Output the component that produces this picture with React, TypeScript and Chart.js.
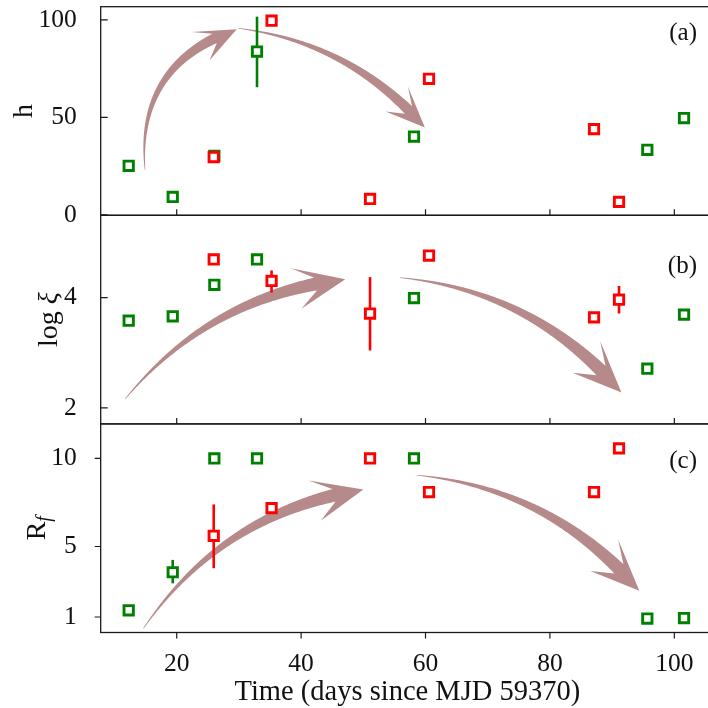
import React, { useEffect, useRef } from 'react';
import { Chart, registerables } from 'chart.js';

Chart.register(...registerables);

// ---------------- data ----------------
const X_TICKS = [20, 40, 60, 80, 100];
const H_TICKS = [0, 50, 100];
const XI_TICKS = [2, 4];
const RF_TICKS = [1, 5, 10];

const GREEN_TIME = [12.28, 19.36, 26.05, 32.91, 58.15, 95.66, 101.56];
const RED_TIME = [25.95, 35.25, 51.08, 60.56, 87.09, 91.11];

const H_GREEN = [25.2, 9.2, 30.3, 83.8, 40.2, 33.4, 49.7];
const H_GREEN_ERR = [null, null, null, [65.5, 101.7], null, null, null];
const H_RED = [29.7, 99.6, 8.2, 69.8, 44.0, 6.7];
const H_RED_ERR = [null, null, null, null, null, null];

const XI_GREEN = [3.58, 3.66, 4.23, 4.69, 3.99, 2.71, 3.69];
const XI_GREEN_ERR = [null, null, null, null, null, null, null];
const XI_RED = [4.69, 4.3, 3.71, 4.76, 3.64, 3.96];
const XI_RED_ERR = [null, [4.09, 4.49], [3.04, 4.37], null, null, [3.71, 4.21]];

const RF_GREEN = [1.38, 3.54, 10, 10, 10, 0.91, 0.94];
const RF_GREEN_ERR = [null, [2.91, 4.24], null, null, null, null, null];
const RF_RED = [5.61, 7.18, 10, 8.09, 8.09, 10.57];
const RF_RED_ERR = [[3.77, 7.39], null, null, null, null, null];

// arrows (annotation endpoints in data coordinates)
const ARROW_AXES = ['yH', 'yH', 'yXi', 'yXi', 'yRf', 'yRf'];
const ARROW_FROM = [[14.9, 23.2], [29.9, 95.7], [11.7, 2.16], [55.9, 4.36], [14.63, 0.34], [58.6, 9.05]];
const ARROW_TO = [[29.65, 95.2], [59.9, 44.9], [47.1, 4.33], [91.5, 2.28], [50.0, 8.24], [94.37, 2.49]];
const ARROW_RAD = [0.39, 0.19, 0.2, 0.2, 0.215, 0.2];
const ARROW_SCALE = [0.8, 0.8, 1, 1, 1, 1];

const PANEL_LABELS = ['(a)', '(b)', '(c)'];
const X_TITLE = 'Time (days since MJD 59370)';

// ---------------- styles ----------------
const GREEN = '#008000';
const RED = '#ff0000';
const ARROW_COLOR = 'rgb(182,138,138)';
const INK = '#111';
const SERIF = "'Liberation Serif', 'DejaVu Serif', serif";
const TICK_FONT = { family: SERIF, size: 25.5 };
const PANEL_AXES = ['yH', 'yXi', 'yRf'];
const PANEL_LABEL_BASE = [33, 57.4, 43.8];

function drawArrow(ctx, xs, ys, i) {
  const p0x = xs.getPixelForValue(ARROW_FROM[i][0]);
  const p0y = ys.getPixelForValue(ARROW_FROM[i][1]);
  const p2x = xs.getPixelForValue(ARROW_TO[i][0]);
  const p2y = ys.getPixelForValue(ARROW_TO[i][1]);
  const dx = p2x - p0x;
  const dy = p2y - p0y;
  const rad = ARROW_RAD[i];
  const cx = (p0x + p2x) / 2 + rad * dy;
  const cy = (p0y + p2y) / 2 - rad * dx;
  const N = 300;
  const pts = [];
  let len = 0;
  for (let k = 0; k <= N; k++) {
    const t = k / N;
    const x = (1 - t) * (1 - t) * p0x + 2 * (1 - t) * t * cx + t * t * p2x;
    const y = (1 - t) * (1 - t) * p0y + 2 * (1 - t) * t * cy + t * t * p2y;
    const tx = 2 * (1 - t) * (cx - p0x) + 2 * t * (p2x - cx);
    const ty = 2 * (1 - t) * (cy - p0y) + 2 * t * (p2y - cy);
    if (k > 0) {
      const pr = pts[k - 1];
      len += Math.hypot(x - pr.x, y - pr.y);
    }
    const tn = Math.hypot(tx, ty) || 1;
    pts.push({ x, y, nx: -ty / tn, ny: tx / tn, s: len });
  }
  const L = len;
  const sc = ARROW_SCALE[i];
  const hl = 50 * sc;
  const hw = 21 * sc;
  const bw = 6.5 * sc;
  const notch = hl * 0.6;
  const at = (s) => {
    for (let k = 1; k < pts.length; k++) {
      if (pts[k].s >= s) {
        const a = pts[k - 1];
        const b = pts[k];
        const f = (s - a.s) / ((b.s - a.s) || 1);
        return { x: a.x + (b.x - a.x) * f, y: a.y + (b.y - a.y) * f, nx: a.nx, ny: a.ny };
      }
    }
    return pts[pts.length - 1];
  };
  const left = [];
  const right = [];
  const bodyEnd = L - notch;
  for (const p of pts) {
    if (p.s > bodyEnd) break;
    const w = 0.3 + (bw - 0.3) * (p.s / bodyEnd);
    left.push([p.x + p.nx * w, p.y + p.ny * w]);
    right.push([p.x - p.nx * w, p.y - p.ny * w]);
  }
  const nb = at(bodyEnd);
  left.push([nb.x + nb.nx * bw, nb.y + nb.ny * bw]);
  right.push([nb.x - nb.nx * bw, nb.y - nb.ny * bw]);
  const wg = at(L - hl);
  ctx.save();
  ctx.fillStyle = ARROW_COLOR;
  ctx.beginPath();
  ctx.moveTo(left[0][0], left[0][1]);
  for (const p of left) ctx.lineTo(p[0], p[1]);
  ctx.lineTo(wg.x + wg.nx * hw, wg.y + wg.ny * hw);
  ctx.lineTo(p2x, p2y);
  ctx.lineTo(wg.x - wg.nx * hw, wg.y - wg.ny * hw);
  for (let k = right.length - 1; k >= 0; k--) ctx.lineTo(right[k][0], right[k][1]);
  ctx.closePath();
  ctx.fill();
  ctx.restore();
}

function drawRotatedTitle(ctx, parts, bx, cy) {
  ctx.save();
  ctx.translate(bx, cy);
  ctx.rotate(-Math.PI / 2);
  ctx.fillStyle = INK;
  ctx.textBaseline = 'alphabetic';
  ctx.textAlign = 'left';
  let total = 0;
  for (const p of parts) {
    ctx.font = p.font;
    total += ctx.measureText(p.text).width;
  }
  let x = -total / 2;
  for (const p of parts) {
    ctx.font = p.font;
    ctx.fillText(p.text, x, p.dy || 0);
    x += ctx.measureText(p.text).width;
  }
  ctx.restore();
}

const Y_TITLES = [
  [{ text: 'h', font: `28px ${SERIF}` }],
  [{ text: 'log ', font: `28px ${SERIF}` }, { text: 'ξ', font: `italic 28px ${SERIF}` }],
  [{ text: 'R', font: `28px ${SERIF}` }, { text: 'f', font: `italic 20px ${SERIF}`, dy: 5 }],
];
const Y_TICK_SETS = [H_TICKS, XI_TICKS, RF_TICKS];

const panelPlugin = {
  id: 'panelPlugin',
  beforeDatasetsDraw(chart) {
    const ctx = chart.ctx;
    const xs = chart.scales.x;
    for (let i = 0; i < ARROW_FROM.length; i++) {
      drawArrow(ctx, xs, chart.scales[ARROW_AXES[i]], i);
    }
    chart.data.datasets.forEach((ds) => {
      const errs = ds.errors;
      if (!errs) return;
      const ys = chart.scales[ds.yAxisID];
      ctx.save();
      ctx.strokeStyle = ds.borderColor;
      ctx.lineWidth = 2.6;
      ds.data.forEach((p, j) => {
        const e = errs[j];
        if (!e) return;
        const px = xs.getPixelForValue(p.x);
        ctx.beginPath();
        ctx.moveTo(px, ys.getPixelForValue(e[0]));
        ctx.lineTo(px, ys.getPixelForValue(e[1]));
        ctx.stroke();
      });
      ctx.restore();
    });
  },
  afterDatasetsDraw(chart) {
    const ctx = chart.ctx;
    const area = chart.chartArea;
    const xs = chart.scales.x;
    ctx.save();
    PANEL_AXES.forEach((id, idx) => {
      const ys = chart.scales[id];
      const top = ys.top;
      const bottom = ys.bottom;
      const inward = idx < 2;
      ctx.strokeStyle = '#1a1a1a';
      ctx.lineWidth = 1.3;
      ctx.strokeRect(area.left, top, area.right - area.left, bottom - top);
      ctx.lineWidth = 1.2;
      ctx.beginPath();
      for (const v of Y_TICK_SETS[idx]) {
        const py = ys.getPixelForValue(v);
        if (inward) {
          ctx.moveTo(area.left, py);
          ctx.lineTo(area.left + 7, py);
        } else {
          ctx.moveTo(area.left - 6, py);
          ctx.lineTo(area.left, py);
        }
      }
      for (const v of X_TICKS) {
        const px = xs.getPixelForValue(v);
        if (inward) {
          ctx.moveTo(px, bottom);
          ctx.lineTo(px, bottom - 6);
        } else {
          ctx.moveTo(px, bottom);
          ctx.lineTo(px, bottom + 6);
        }
      }
      ctx.stroke();

      ctx.fillStyle = INK;
      ctx.font = `25px ${SERIF}`;
      ctx.textAlign = 'right';
      ctx.textBaseline = 'alphabetic';
      ctx.fillText(PANEL_LABELS[idx], area.right - 17, top + PANEL_LABEL_BASE[idx]);

      ctx.font = `${TICK_FONT.size}px ${SERIF}`;
      let maxW = 0;
      for (const v of Y_TICK_SETS[idx]) maxW = Math.max(maxW, ctx.measureText(String(v)).width);
      const labelLeft = area.left - 16 - maxW;
      drawRotatedTitle(ctx, Y_TITLES[idx], labelLeft - 14.5, (top + bottom) / 2);
    });
    ctx.fillStyle = INK;
    ctx.font = `28.5px ${SERIF}`;
    ctx.textAlign = 'center';
    ctx.textBaseline = 'alphabetic';
    ctx.fillText(X_TITLE, (area.left + area.right) / 2, 700);
    ctx.restore();
  },
};

function pts(times, vals) {
  return times.map((t, i) => ({ x: t, y: vals[i] }));
}

function zeroPad(s) {
  s.paddingTop = 0;
  s.paddingBottom = 0;
  s.paddingLeft = 0;
  s.paddingRight = 0;
}

function yScale(min, max, ticks) {
  return {
    type: 'linear',
    position: 'left',
    stack: 'panels',
    stackWeight: 1,
    min,
    max,
    grid: { display: false },
    border: { display: false },
    ticks: { font: TICK_FONT, color: INK, padding: 16, autoSkip: false },
    afterBuildTicks: (s) => {
      s.ticks = ticks.map((v) => ({ value: v }));
    },
    afterFit: (s) => {
      s.width = 100.7;
      zeroPad(s);
    },
  };
}

function marker(color) {
  return {
    showLine: false,
    pointStyle: 'rect',
    pointRadius: 6.6,
    pointHoverRadius: 6.6,
    pointBorderWidth: 2.9,
    borderColor: color,
    pointBorderColor: color,
    pointBackgroundColor: '#ffffff',
    backgroundColor: '#ffffff',
  };
}

export default function App() {
  const ref = useRef(null);
  useEffect(() => {
    const canvas = ref.current;
    if (!canvas) return;
    const chart = new Chart(canvas, {
      type: 'scatter',
      data: {
        datasets: [
          { label: 'h (green)', data: pts(GREEN_TIME, H_GREEN), yAxisID: 'yH', errors: H_GREEN_ERR, order: 2, ...marker(GREEN) },
          { label: 'h (red)', data: pts(RED_TIME, H_RED), yAxisID: 'yH', errors: H_RED_ERR, order: 1, ...marker(RED) },
          { label: 'log xi (green)', data: pts(GREEN_TIME, XI_GREEN), yAxisID: 'yXi', errors: XI_GREEN_ERR, order: 2, ...marker(GREEN) },
          { label: 'log xi (red)', data: pts(RED_TIME, XI_RED), yAxisID: 'yXi', errors: XI_RED_ERR, order: 1, ...marker(RED) },
          { label: 'Rf (green)', data: pts(GREEN_TIME, RF_GREEN), yAxisID: 'yRf', errors: RF_GREEN_ERR, order: 2, ...marker(GREEN) },
          { label: 'Rf (red)', data: pts(RED_TIME, RF_RED), yAxisID: 'yRf', errors: RF_RED_ERR, order: 1, ...marker(RED) },
        ],
      } as any,
      options: {
        responsive: false,
        devicePixelRatio: 1,
        animation: false,
        events: [],
        layout: { autoPadding: false, padding: { top: 6.7, left: 0, right: 0, bottom: 0 } },
        plugins: { legend: { display: false }, tooltip: { enabled: false } },
        scales: {
          x: {
            type: 'linear',
            position: 'bottom',
            min: 7.78,
            max: 106.38,
            grid: { display: false },
            border: { display: false },
            ticks: { font: TICK_FONT, color: INK, padding: 8, autoSkip: false, maxRotation: 0 },
            afterBuildTicks: (s) => {
              s.ticks = X_TICKS.map((v) => ({ value: v }));
            },
            afterFit: (s) => {
              s.height = 75.5;
              zeroPad(s);
            },
          },
          yRf: yScale(0.12, 11.96, RF_TICKS),
          yXi: yScale(1.71, 5.49, XI_TICKS),
          yH: yScale(-0.2, 106.8, H_TICKS),
        },
      } as any,
      plugins: [panelPlugin],
    });
    return () => chart.destroy();
  }, []);
  return (
    <div style={{ position: 'fixed', left: 0, top: 0, width: 708, height: 708, overflow: 'hidden', background: '#fff' }}>
      <canvas ref={ref} width={714} height={708} style={{ display: 'block', width: 714, height: 708 }} />
    </div>
  );
}
